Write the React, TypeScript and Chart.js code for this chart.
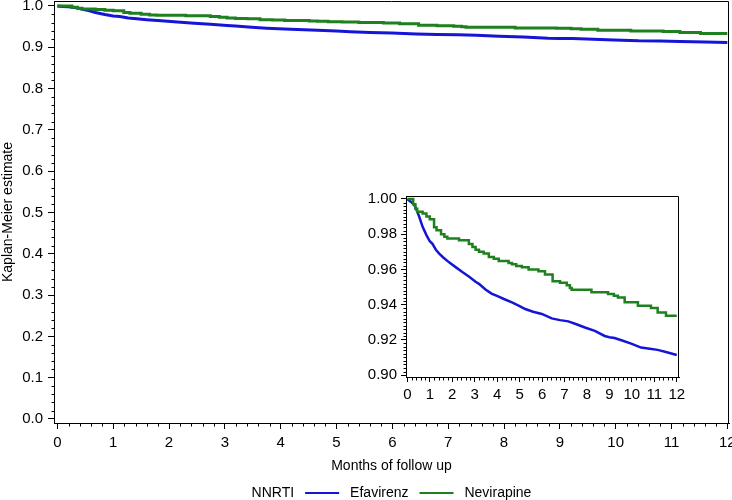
import React, { useEffect, useRef } from 'react';
import { Chart, registerables } from 'chart.js';

Chart.register(...registerables);

// ---- data ----
const efavirenzMonths = [0, 0.09, 0.2, 0.31, 0.42, 0.53, 0.68, 0.85, 1.0, 1.12, 1.27, 1.42, 1.6, 1.86, 2.15, 2.45, 2.74, 3.04, 3.19, 3.48, 3.75, 4.07, 4.3, 4.66, 5.0, 5.25, 5.6, 5.99, 6.43, 6.8, 7.17, 7.5, 7.91, 8.35, 8.79, 9.0, 9.23, 9.6, 9.97, 10.41, 10.8, 11.15, 11.6, 12.0];
const efavirenzSurvival = [1.0, 0.999, 0.998, 0.9966, 0.9935, 0.9899, 0.9842, 0.9795, 0.976, 0.9745, 0.9712, 0.969, 0.9668, 0.964, 0.9613, 0.9585, 0.956, 0.953, 0.9518, 0.9486, 0.9463, 0.9445, 0.9432, 0.9413, 0.9392, 0.9375, 0.936, 0.9347, 0.9322, 0.9312, 0.9305, 0.929, 0.927, 0.9251, 0.9222, 0.9215, 0.921, 0.9195, 0.9179, 0.9156, 0.915, 0.9143, 0.9128, 0.9114];

const nevirapineMonths = [0, 0.26, 0.36, 0.44, 0.68, 0.85, 1.0, 1.19, 1.3, 1.5, 1.65, 1.78, 2.3, 2.74, 2.9, 3.04, 3.19, 3.4, 3.63, 3.85, 4.07, 4.51, 4.66, 4.85, 5.1, 5.4, 5.84, 6.13, 6.47, 6.8, 7.1, 7.24, 7.32, 8.2, 8.94, 9.2, 9.38, 9.68, 10.27, 10.85, 11.15, 11.52, 12.0];
const nevirapineSurvival = [1.0, 0.997, 0.9945, 0.9927, 0.9918, 0.99, 0.9885, 0.984, 0.9823, 0.98, 0.9785, 0.9775, 0.9766, 0.9745, 0.9727, 0.9712, 0.97, 0.969, 0.967, 0.966, 0.9648, 0.9637, 0.963, 0.962, 0.9613, 0.96, 0.959, 0.9571, 0.9533, 0.9524, 0.951, 0.9495, 0.9484, 0.947, 0.9461, 0.945, 0.944, 0.9413, 0.9394, 0.9381, 0.9356, 0.9337, 0.9337];

const seriesNames = ['Efavirenz', 'Nevirapine'];
const seriesColors = ['#1515d8', '#1e801e'];
const legendTitle = 'NNRTI';

const mainXTicks = [0, 1, 2, 3, 4, 5, 6, 7, 8, 9, 10, 11, 12];
const mainXLabels = ['0', '1', '2', '3', '4', '5', '6', '7', '8', '9', '10', '11', '12'];
const mainYTicks = [0, 0.1, 0.2, 0.3, 0.4, 0.5, 0.6, 0.7, 0.8, 0.9, 1.0];
const mainYLabels = ['0.0', '0.1', '0.2', '0.3', '0.4', '0.5', '0.6', '0.7', '0.8', '0.9', '1.0'];
const insetXTicks = [0, 1, 2, 3, 4, 5, 6, 7, 8, 9, 10, 11, 12];
const insetXLabels = ['0', '1', '2', '3', '4', '5', '6', '7', '8', '9', '10', '11', '12'];
const insetYTicks = [0.9, 0.92, 0.94, 0.96, 0.98, 1.0];
const insetYLabels = ['0.90', '0.92', '0.94', '0.96', '0.98', '1.00'];

const xTitle = 'Months of follow up';
const yTitle = 'Kaplan-Meier estimate';

const FONT = '"Liberation Sans", Arial, Helvetica, sans-serif';

function toPoints(xs: number[], ys: number[]) {
  return xs.map((x, i) => ({ x, y: ys[i] }));
}

function buildDatasets(width: number) {
  return [
    {
      label: seriesNames[0],
      data: toPoints(efavirenzMonths, efavirenzSurvival),
      borderColor: seriesColors[0],
      backgroundColor: seriesColors[0],
      borderWidth: width,
      pointRadius: 0,
      tension: 0,
      fill: false,
      order: 1,
    },
    {
      label: seriesNames[1],
      data: toPoints(nevirapineMonths, nevirapineSurvival),
      borderColor: seriesColors[1],
      backgroundColor: seriesColors[1],
      borderWidth: width,
      pointRadius: 0,
      stepped: true,
      fill: false,
      order: 0,
    },
  ];
}

const minorTicksPlugin = {
  id: 'minorTicks',
  afterDraw(chart: any, _args: any, opts: any) {
    const { ctx, chartArea } = chart;
    const xs = chart.scales.x;
    const ys = chart.scales.y;
    ctx.save();
    ctx.strokeStyle = '#000';
    ctx.lineWidth = 1;
    const l = Math.round(chartArea.left) + 0.5;
    const r = Math.round(chartArea.right) - 0.5;
    const t = Math.round(chartArea.top) + 0.5;
    const b = Math.round(chartArea.bottom) + 0.5;
    ctx.beginPath();
    ctx.moveTo(l, t);
    ctx.lineTo(r, t);
    ctx.lineTo(r, b);
    ctx.stroke();
    const xStep = opts.xStep, yStep = opts.yStep;
    ctx.beginPath();
    for (let k = Math.ceil(xs.min / xStep); k * xStep <= xs.max + 1e-9; k++) {
      if (k % opts.xPer === 0) continue;
      const px = Math.round(xs.getPixelForValue(k * xStep)) + 0.5;
      ctx.moveTo(px, b);
      ctx.lineTo(px, b + opts.len);
    }
    for (let k = Math.ceil(ys.min / yStep - 1e-9); k * yStep <= ys.max + 1e-9; k++) {
      if (k % opts.yPer === 0) continue;
      const py = Math.round(ys.getPixelForValue(k * yStep)) + 0.5;
      ctx.moveTo(l, py);
      ctx.lineTo(l - opts.len, py);
    }
    ctx.stroke();
    ctx.restore();
  },
};

const legendPlugin = {
  id: 'kmLegend',
  afterDraw(chart: any) {
    const { ctx, chartArea } = chart;
    ctx.save();
    ctx.font = `14px ${FONT}`;
    ctx.textBaseline = 'middle';
    ctx.textAlign = 'left';
    ctx.fillStyle = '#000';
    const gap = 11;
    const lineLen = 34;
    const items = chart.data.datasets.map((d: any) => ({ label: d.label, color: d.borderColor }));
    const titleW = ctx.measureText(legendTitle).width;
    let total = titleW;
    items.forEach((it: any) => {
      total += gap + lineLen + gap + ctx.measureText(it.label).width;
    });
    let x = (chartArea.left + chartArea.right) / 2 - total / 2;
    const y = 493;
    ctx.fillText(legendTitle, x, y);
    x += titleW + gap;
    items.forEach((it: any) => {
      ctx.strokeStyle = it.color;
      ctx.lineWidth = 2;
      ctx.beginPath();
      ctx.moveTo(x, y);
      ctx.lineTo(x + lineLen, y);
      ctx.stroke();
      x += lineLen + gap;
      ctx.fillText(it.label, x, y);
      x += ctx.measureText(it.label).width + gap;
    });
    ctx.restore();
  },
};

function makeScales(cfg: any) {
  const font = { family: FONT, size: cfg.fontSize };
  const tfont = { family: FONT, size: 14 };
  return {
    x: {
      type: 'linear',
      min: cfg.xMin,
      max: cfg.xMax,
      afterBuildTicks: (s: any) => {
        s.ticks = cfg.xTicks.map((v: number) => ({ value: v }));
      },
      afterFit: (s: any) => {
        s.height = cfg.xHeight;
        s.paddingLeft = 0;
        s.paddingRight = 0;
      },
      ticks: {
        autoSkip: false,
        maxRotation: 0,
        minRotation: 0,
        padding: cfg.xPad,
        color: '#000',
        font,
        callback: (_v: any, i: number) => cfg.xLabels[i],
      },
      grid: { display: true, drawOnChartArea: false, drawTicks: true, tickLength: cfg.tickLen, color: '#000', lineWidth: 1 },
      border: { display: true, color: '#000', width: 1 },
      title: cfg.xTitle
        ? { display: true, text: cfg.xTitle, color: '#000', font: tfont, padding: { top: 0, bottom: 25 } }
        : { display: false },
    },
    y: {
      type: 'linear',
      min: cfg.yMin,
      max: cfg.yMax,
      afterBuildTicks: (s: any) => {
        s.ticks = cfg.yTicks.map((v: number) => ({ value: v }));
      },
      afterFit: (s: any) => {
        s.width = cfg.yWidth;
        s.paddingTop = 0;
        s.paddingBottom = 0;
      },
      ticks: {
        autoSkip: false,
        padding: cfg.yPad,
        color: '#000',
        font,
        callback: (_v: any, i: number) => cfg.yLabels[i],
      },
      grid: { display: true, drawOnChartArea: false, drawTicks: true, tickLength: cfg.tickLen, color: '#000', lineWidth: 1 },
      border: { display: true, color: '#000', width: 1 },
      title: cfg.yTitle
        ? { display: true, text: cfg.yTitle, color: '#000', font: { ...tfont, lineHeight: 1.1 }, padding: { top: 0, bottom: 0 } }
        : { display: false },
    },
  };
}

export default function App() {
  const mainRef = useRef<HTMLCanvasElement | null>(null);
  const insetRef = useRef<HTMLCanvasElement | null>(null);

  useEffect(() => {
    const main = new Chart(mainRef.current as HTMLCanvasElement, {
      type: 'line',
      data: { datasets: buildDatasets(3) as any },
      options: {
        responsive: false,
        maintainAspectRatio: false,
        animation: false,
        devicePixelRatio: 1,
        layout: { padding: { left: 0, top: 1, right: 3, bottom: 0 } },
        plugins: {
          legend: { display: false },
          tooltip: { enabled: false },
          minorTicks: { xStep: 0.2, xPer: 5, yStep: 0.02, yPer: 5, len: 3 },
        } as any,
        scales: makeScales({
          fontSize: 15,
          xMin: -0.06,
          xMax: 12.03,
          xTicks: mainXTicks,
          xLabels: mainXLabels,
          xHeight: 77,
          xPad: 5,
          yMin: -0.0097,
          yMax: 1.0121,
          yTicks: mainYTicks,
          yLabels: mainYLabels,
          yWidth: 54,
          yPad: 5,
          tickLen: 6,
          xTitle,
          yTitle,
        }) as any,
      },
      plugins: [minorTicksPlugin, legendPlugin],
    });

    const inset = new Chart(insetRef.current as HTMLCanvasElement, {
      type: 'line',
      data: { datasets: buildDatasets(2.5) as any },
      options: {
        responsive: false,
        maintainAspectRatio: false,
        animation: false,
        devicePixelRatio: 1,
        layout: { padding: { left: 0, top: 10, right: 11, bottom: 0 } },
        plugins: {
          legend: { display: false },
          tooltip: { enabled: false },
          minorTicks: { xStep: 0.2, xPer: 5, yStep: 0.002, yPer: 10, len: 3 },
        } as any,
        scales: makeScales({
          fontSize: 15,
          xMin: -0.06,
          xMax: 12.1,
          xTicks: insetXTicks,
          xLabels: insetXLabels,
          xHeight: 31,
          xPad: 4,
          yMin: 0.8989,
          yMax: 1.0017,
          yTicks: insetYTicks,
          yLabels: insetYLabels,
          yWidth: 50,
          yPad: 4,
          tickLen: 5,
        }) as any,
      },
      plugins: [minorTicksPlugin],
    });

    return () => {
      main.destroy();
      inset.destroy();
    };
  }, []);

  return (
    <div style={{ position: 'absolute', left: 0, top: 0, width: 732, height: 500, background: '#fff' }}>
      <canvas ref={mainRef} width={732} height={500} style={{ position: 'absolute', left: 0, top: 0, display: 'block' }} />
      <canvas ref={insetRef} width={334} height={222} style={{ position: 'absolute', left: 356, top: 186, display: 'block' }} />
    </div>
  );
}
